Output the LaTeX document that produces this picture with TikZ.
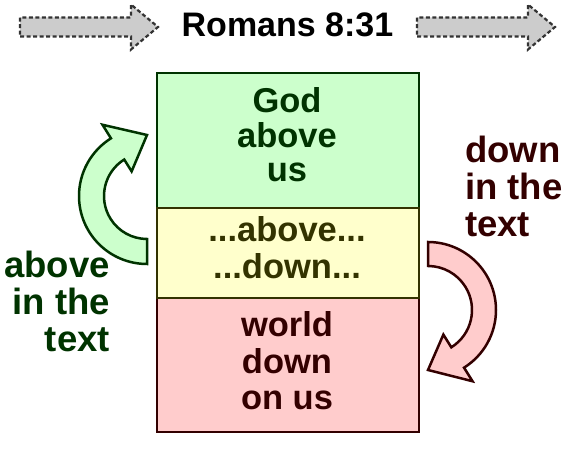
\documentclass[tikz,border=0pt]{standalone}
\usepackage{fontspec}
\setmainfont{Liberation Sans}
\usetikzlibrary{calc}
\definecolor{gfill}{HTML}{CCFFCC}
\definecolor{gdark}{HTML}{003300}
\definecolor{yfill}{HTML}{FFFFCC}
\definecolor{ydark}{HTML}{333300}
\definecolor{pfill}{HTML}{FFCCCC}
\definecolor{pdark}{HTML}{330000}
\definecolor{afill}{HTML}{CCCCCC}
\definecolor{adark}{HTML}{333333}
\begin{document}
\begin{tikzpicture}[x=1pt,y=1pt,
  boxstyle/.style={draw, line width=2.3pt, minimum width=262pt, minimum height=#1, inner sep=0pt, anchor=north west},
  boxtext/.style={inner sep=0pt, align=center, font={\fontsize{34.5}{#1}\selectfont\bfseries}},
  sidetext/.style={inner sep=0pt, font={\fontsize{36.5}{37}\selectfont\bfseries}},
  grayarrow/.style={fill=afill, draw=adark, line width=2.2pt, dash pattern=on 4pt off 2.5pt, line join=miter},
  curvedarrow/.style={line width=2.5pt, line join=miter}]
\useasboundingbox (0,0) rectangle (576,460);
% top gray arrows
\draw[grayarrow] (20,423.5) -- (131,423.5) -- (131,410.5) -- (158,433) -- (131,455.5) -- (131,442.5) -- (20,442.5) -- cycle;
\draw[grayarrow] (417,423.5) -- (528,423.5) -- (528,410.5) -- (555,433) -- (528,455.5) -- (528,442.5) -- (417,442.5) -- cycle;
\node[inner sep=0pt, anchor=base, font={\fontsize{34}{34}\selectfont\bfseries}] (title) at (287.5,423) {Romans 8:31};
% boxes
\node[boxstyle=135pt, fill=gfill, draw=gdark] (topbox) at (156,388) {};
\node[boxstyle=134pt, fill=pfill, draw=pdark] (botbox) at (156,163) {};
\node[boxstyle=90pt, fill=yfill, draw=ydark] (midbox) at (156,253) {};
\node[boxtext=34.5pt, text=gdark, anchor=base] (toptxt) at (287,278) {God\\above\\us};
\node[boxtext=37pt, text=ydark, anchor=base] (midtxt) at (287,181) {...above...\\...down...};
\node[boxtext=36.5pt, text=pdark, anchor=base] (bottxt) at (287,50) {world\\down\\on us};
% side labels
\node[sidetext, text=gdark, align=right, anchor=base east] (lefttxt) at (110,108) {above\\in the\\text};
\node[sidetext, text=pdark, align=left, anchor=base west] (righttxt) at (465,223) {down\\in the\\text};
% curved arrows
\coordinate (cl) at (147,264);
\coordinate (cr) at (428,150);
\draw[curvedarrow, fill=gfill, draw=gdark] ($(cl)+(270:68)$) arc[start angle=270, end angle=122, radius=68]
  -- ($(cl)+(122:84)$) -- ($(cl)+(90:61)$) -- ($(cl)+(122:29)$) -- ($(cl)+(122:43)$)
  arc[start angle=122, end angle=270, radius=43] -- cycle;
\draw[curvedarrow, fill=pfill, draw=pdark] ($(cr)+(90:68)$) arc[start angle=90, end angle=-58, radius=68]
  -- ($(cr)+(-58:84)$) -- ($(cr)+(270:60)$) -- ($(cr)+(-58:29)$) -- ($(cr)+(-58:44)$)
  arc[start angle=-58, end angle=90, radius=44] -- cycle;
\end{tikzpicture}
\end{document}
